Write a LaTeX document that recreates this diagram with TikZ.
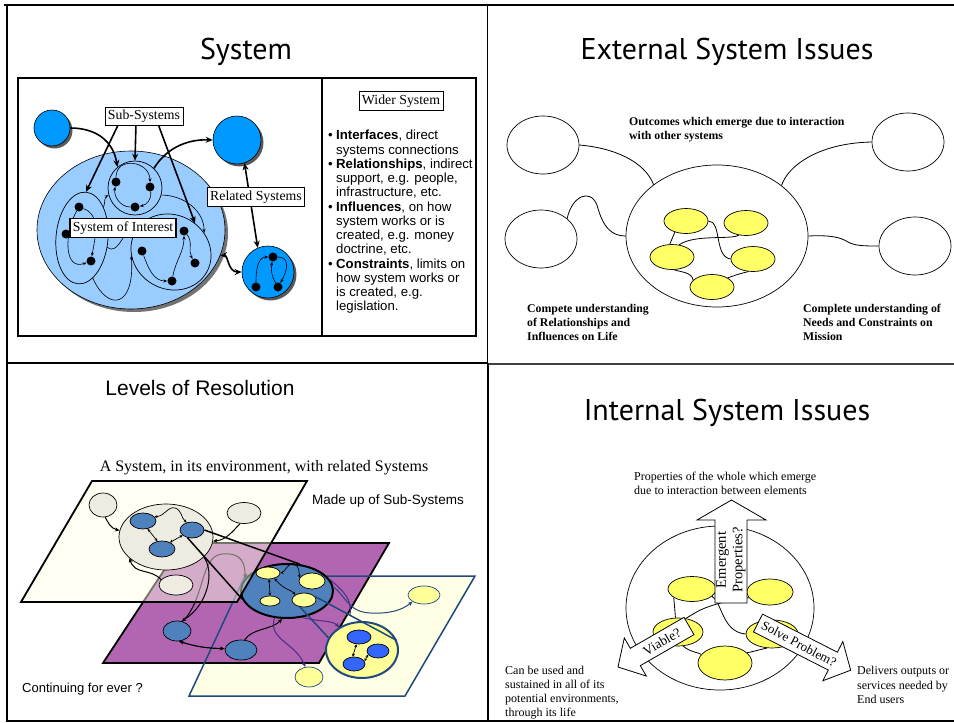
\documentclass[tikz,border=0pt]{standalone}
\usepackage{fontspec}
\setmainfont{Liberation Serif}
\newfontfamily\arialf{Liberation Sans}
\newfontfamily\titlef{PT Sans}
\usetikzlibrary{arrows.meta,shapes.geometric,shadows}
\definecolor{lblue}{HTML}{99CCFF}
\definecolor{dblue}{HTML}{0099FF}
\definecolor{yel}{HTML}{FFFF66}
\definecolor{pyel}{HTML}{FFFFE5}
\definecolor{purp}{HTML}{B266B2}
\definecolor{oblue}{HTML}{4F81BD}
\definecolor{ogrey}{HTML}{EEECE1}
\definecolor{lyel}{HTML}{FFFF99}
\definecolor{bblue}{HTML}{3366FF}
\definecolor{nblue}{HTML}{1F497D}
\definecolor{dpurp}{HTML}{4B2C84}
\definecolor{framegrey}{HTML}{404040}
\newcommand\myb{\makebox[8pt][l]{\textbullet}}
\newcommand\myi{\hspace*{8pt}}
\begin{document}
\begin{tikzpicture}[x=1pt,y=-1pt,
  sz/.style 2 args={minimum width=#1pt, minimum height=#2pt},
  el/.style={ellipse, draw, inner sep=0pt, line width=0.7pt},
  dot/.style={circle, fill=black, inner sep=0pt, minimum size=9pt},
  bluec/.style={circle, draw, fill=dblue, inner sep=0pt, line width=0.6pt,
     drop shadow={shadow xshift=2.5pt, shadow yshift=-2.5pt, fill=black!65, opacity=1}},
  lab/.style={draw, fill=white, inner sep=3pt, line width=0.7pt, font=\fontsize{13.8}{16}\selectfont},
  thk/.style={line width=1.6pt, -{Stealth[length=7pt,width=6pt]}},
  thkb/.style={line width=1.6pt, {Stealth[length=7pt,width=6pt]}-{Stealth[length=7pt,width=6pt]}},
  thn/.style={line width=0.6pt, -{Stealth[length=4pt,width=3pt]}},
  ln/.style={line width=0.8pt},
  ttl/.style={font=\titlef\fontsize{30}{34}\selectfont},
  bsf/.style={font=\bfseries\fontsize{11.8}{14}\selectfont, align=left, inner sep=0pt},
  rmt/.style={font=\fontsize{12}{14.2}\selectfont, align=left, inner sep=0pt},
  sml/.style={line width=1pt, -{Stealth[length=4.5pt,width=4pt]}},
  smlb/.style={line width=0.7pt, {Stealth[length=3pt,width=3pt]}-{Stealth[length=3pt,width=3pt]}},
  bigar/.style={draw, fill=white, line width=0.8pt},
]
\useasboundingbox (0,0) rectangle (954,723);
\fill[white] (0,0) rectangle (954,723);
% ---------------- frame
\draw[line width=2.5pt] (4,5) -- (954,5);
\draw[line width=2pt] (7,4) -- (7,721);
\draw[line width=2pt] (6,721) -- (954,721);
\draw[line width=1.5pt] (7,363) -- (487,363);
\draw[line width=2.5pt, draw=framegrey] (487,364) -- (954,364);
\draw[line width=1pt] (487,5) -- (487,363);
\draw[line width=1.2pt] (488,363) -- (488,721);
% ---------------- titles
\node[ttl] (t1) at (246,52) {System};
\node[ttl] (t2) at (727,52) {External System Issues};
\node[ttl] (t4) at (727,413) {Internal System Issues};
\node[font=\arialf\fontsize{21}{24}\selectfont] (t3) at (200,388) {Levels of Resolution};

% ================= Q1 : System
\draw[line width=2pt] (18,78) rectangle (476,336);
\draw[line width=1.5pt] (322,78) -- (322,336);
\node[draw, line width=0.8pt, inner sep=3pt, font=\fontsize{13.8}{15}\selectfont] (wider) at (401,101) {Wider System};
\node[anchor=north west, inner sep=0pt, align=left, font=\arialf\fontsize{13.2}{14.25}\selectfont] (blist) at (328,130) {%
\myb\textbf{Interfaces}, direct\\
\myi systems connections\\
\myb\textbf{Relationships}, indirect\\
\myi support, e.g. people,\\
\myi infrastructure, etc.\\
\myb\textbf{Influences}, on how\\
\myi system works or is\\
\myi created, e.g. money\\
\myi doctrine, etc.\\
\myb\textbf{Constraints}, limits on\\
\myi how system works or\\
\myi is created, e.g.\\
\myi legislation.};

\node[ellipse, draw, fill=lblue, inner sep=0pt, sz={188}{158}, line width=0.6pt,
  drop shadow={shadow xshift=3pt, shadow yshift=-3pt, fill=black!55, opacity=1}] (soi) at (131,230) {};
\node[el, sz={54}{54}] (ss1) at (135,188) {};
\node[el, sz={52}{92}, rotate=-5] (ss2) at (82,238) {};
\node[el, sz={82}{74}, rotate=-30] (ss3) at (171,252) {};
\node[bluec, minimum size=36pt] (c1) at (52,128) {};
\node[bluec, minimum size=48pt] (c2) at (237,140) {};
\node[bluec, minimum size=52pt] (c3) at (268,272) {};
\foreach \n/\x/\y in {t1d/116/182, t2d/150/187, t3d/135/207, l1/79/207, l2/66/234, l3/91/261,
   r1/184/231, r2/142/251, r3/195/263, r4/172/281, b1/273/257, b2/256/287, b3/278/287}
  \node[dot] (\n) at (\x,\y) {};
% thin internal arrows
\draw[thn] (t1d) to[out=90,in=90,looseness=1.6] (t2d);
\draw[thn] (t2d) to[out=-80,in=10] (t3d);
\draw[thn] (t3d) to[out=180,in=-100] (t1d);
\draw[thn] (l1) to[out=-120,in=200,looseness=1.2] (l3);
\draw[thn] (l1) to[out=-20,in=80] (l3);
\draw[thn] (r2) to[out=-70,in=180] (r4);
\draw[thn] (r4) to[out=80,in=-90] (r1);
\draw[thn] (r1) to[out=-50,in=120] (r3);
\draw[thn] (b2) to[out=90,in=180] (b1);
\draw[thn] (b1) to[out=0,in=60,looseness=1.3] (b3);
\draw[thn] (b3) to[out=120,in=-100] (b1);
\draw[thn] (ss2.60) to[out=70,in=210] (ss1.195);
\draw[thn] (ss1.-15) to[out=0,in=90] (ss3.60);
\draw[thn] (ss2.-70) .. controls (108,312) and (135,308) .. (ss3.215);
\draw[thn] (ss2.-15) to[out=-40,in=180] (ss3.170);
% thick arrows
\node[lab] (lsub) at (144,116.5) {Sub-Systems};
\draw[thk] (lsub.-160) -- (ss2.north);
\draw[thk] (lsub.-130) -- (ss1.north);
\draw[thk] (lsub.-33) -- (ss3.80);
\draw[thk] (c1.east) .. controls (95,128) and (113,140) .. (ss1.130);
\draw[thk] (ss1.46) .. controls (165,150) and (185,139) .. (c2.west);
\draw[thkb] (c2.-72) -- (c3.113);
\draw[thkb] (soi.-16) .. controls (228,255) and (228,272) .. (c3.west);
\node[lab] (lrel) at (256,197) {Related Systems};
\node[lab, line width=1.6pt] (lsoi) at (123,228) {System of Interest};

% ================= Q2 : External
\node[el, sz={182}{142}] (cen) at (717,236) {};
\node[el, sz={72}{58}] (e1) at (543,145) {};
\node[el, sz={72}{58}] (e2) at (541,239) {};
\node[el, sz={72}{58}] (e3) at (908,142) {};
\node[el, sz={72}{58}] (e4) at (915,246) {};
\draw[ln] (e1.east) .. controls (615,148) and (645,162) .. (cen.141);
\draw[ln] (cen.38) .. controls (788,165) and (820,143) .. (e3.west);
\draw[ln] (e2.38) .. controls (572,196) and (590,188) .. (597,205) .. controls (603,228) and (612,236) .. (cen.west);
\draw[ln] (cen.east) .. controls (830,235) and (840,237) .. (848,242) .. controls (855,246) and (865,246) .. (e4.west);
\foreach \n/\x/\y in {ya/686/221, yb/746/223, yc/672/257, yd/753/259, ye/712/287}
  \node[el, fill=yel, sz={44}{25}] (\n) at (\x,\y) {};
\draw[ln] (ya.-135) -- (yc.100);
\draw[ln] (ya.east) .. controls (722,221) and (714,257) .. (yd.west);
\draw[ln] (yb.-120) .. controls (730,240) and (695,234) .. (yc.60);
\draw[ln] (yc.-80) .. controls (680,272) and (692,272) .. (ye.160);
\draw[ln] (yd.-110) .. controls (738,274) and (733,276) .. (ye.30);
\node[bsf, anchor=west] (outc) at (629,129.5) {Outcomes which emerge due to interaction\\with other systems};
\node[bsf, anchor=west] (cul) at (527,322) {Compete understanding\\of Relationships and\\Influences on Life};
\node[bsf, anchor=west] (cun) at (803,322) {Complete understanding of\\Needs and Constraints on\\Mission};

% ================= Q3 : Levels of resolution
\node[font=\fontsize{16}{18}\selectfont] (asys) at (264,468) {A System, in its environment, with related Systems};
\node[anchor=west, inner sep=0pt, font=\arialf\fontsize{13.5}{15}\selectfont] (mus) at (312,501) {Made up of Sub-Systems};
\node[anchor=west, inner sep=0pt, font=\arialf\fontsize{13}{15}\selectfont] (cfe) at (22,689) {Continuing for ever ?};
% bottom plane fill
\fill[pyel] (245,576) -- (475,576) -- (405,696) -- (189,696) -- cycle;
% middle plane
\draw[fill=purp, line width=1.8pt] (182,543) -- (389,543) -- (319,663) -- (103,663) -- cycle;
% bottom plane outline
\draw[nblue, line width=1.5pt] (245,576) -- (475,576) -- (405,696) -- (189,696) -- cycle;
% middle plane items
\node[el, fill=oblue, line width=2pt, sz={92}{54}] (B) at (287,591) {};
\node[el, fill=lyel, sz={24}{12}] (y1) at (268,573) {};
\node[el, fill=lyel, sz={26}{16}] (y2) at (312,581) {};
\node[el, fill=lyel, sz={20}{10}] (y3) at (270,601) {};
\node[el, fill=lyel, sz={24}{14}] (y4) at (304,600) {};
\draw[smlb] (y1.-80) -- (y3.90);
\draw[smlb] (y1.east) .. controls (285,572) and (288,562) .. (294,564) .. controls (300,566) and (299,574) .. (y2.165);
\draw[smlb] (y1.-40) .. controls (284,590) and (292,590) .. (y4.150);
\node[el, fill=oblue, sz={28}{20}] (s1) at (177,631) {};
\node[el, fill=oblue, sz={32}{20}] (s2) at (241,650) {};
\draw[line width=1.2pt, {Stealth[length=5pt,width=4pt]}-{Stealth[length=5pt,width=4pt]}] (s1.-80) to[bend right=8] (s2.175);
\draw[sml] (s2.70) .. controls (252,628) and (272,630) .. (B.-100);
\draw[sml] (s1.60) .. controls (205,600) and (200,556) .. (222,554) .. controls (235,553) and (245,556) .. (B.163);
% bottom plane items
\node[el, fill=lyel, draw=nblue, line width=2pt, sz={72}{56}] (Y) at (362,650) {};
\node[el, fill=bblue, sz={24}{14}] (bb1) at (359,637) {};
\node[el, fill=bblue, sz={22}{14}] (bb2) at (378,651) {};
\node[el, fill=bblue, sz={22}{14}] (bb3) at (354,664) {};
\draw[smlb] (bb1.-110) -- (bb3.100);
\draw[smlb] (bb3.15) -- (bb2.-160);
\node[el, fill=lyel, draw=nblue, sz={32}{18}] (ys1) at (424,595) {};
\node[el, fill=lyel, draw=nblue, sz={28}{20}] (ys2) at (309,677) {};
\draw[sml, draw=nblue] (B.5) .. controls (345,595) and (348,612) .. (370,613) .. controls (390,614) and (402,610) .. (ys1.-150);
\draw[sml, draw=dpurp] (B.-115) .. controls (268,640) and (295,642) .. (ys2.110);
\draw[sml, draw=dpurp] (B.-60) .. controls (320,622) and (332,620) .. (Y.135);
\draw[line width=1pt, draw=dpurp] (B.15) .. controls (345,592) and (352,600) .. (350,615);
% top plane
\fill[pyel, fill opacity=0.45] (92,481) -- (307,481) -- (237,602) -- (21,602) -- cycle;
\draw[line width=1.8pt] (92,481) -- (307,481) -- (237,602) -- (21,602) -- cycle;
\node[el, fill=ogrey, sz={94}{66}] (G) at (166,537) {};
\node[el, fill=ogrey, sz={28}{24}] (g1) at (103,505) {};
\node[el, fill=ogrey, sz={34}{21}] (g2) at (244,513) {};
\node[el, fill=ogrey, sz={34}{20}] (g3) at (176,585) {};
\node[el, fill=oblue, sz={26}{16}] (gb1) at (143,521) {};
\node[el, fill=oblue, sz={24}{16}] (gb2) at (192,530) {};
\node[el, fill=oblue, sz={26}{16}] (gb3) at (162,549) {};
\draw[sml] (g1.-80) .. controls (108,522) and (110,528) .. (G.172);
\draw[sml] (g2.-110) .. controls (232,532) and (226,540) .. (G.-5);
\draw[sml] (g3.160) .. controls (150,568) and (135,575) .. (G.-150);
\draw[smlb] (gb1.-60) -- (gb3.120);
\draw[smlb] (gb1.20) .. controls (165,516) and (168,506) .. (175,508) .. controls (182,510) and (181,518) .. (gb2.125);
\draw[smlb] (gb3.40) -- (gb2.-150);
\draw[sml] (G.-28) .. controls (215,572) and (208,605) .. (s1.65);
% expansion lines
\draw[line width=1.5pt] (gb2.east) -- (B.65);
\draw[line width=1.5pt] (gb2.-120) -- (B.190);
\draw[line width=1.5pt, draw=nblue] (y4.20) -- (Y.15);
\draw[line width=1.5pt, draw=nblue] (y4.-120) -- (Y.160);

% ================= Q4 : Internal
\node[el, sz={188}{164}] (Q) at (720,608) {};
\node[el, fill=yel, sz={48}{25}] (qa) at (692,589) {};
\node[el, fill=yel, sz={46}{26}] (qb) at (770,592) {};
\node[el, fill=yel, sz={50}{28}] (qc) at (678,632) {};
\node[el, fill=yel, sz={52}{28}] (qd) at (772,634) {};
\node[el, fill=yel, sz={54}{34}] (qe) at (725,663) {};
\draw[ln] (qa.-155) -- (qc.100);
\draw[ln] (qc.60) .. controls (697,612) and (705,604) .. (qb.-165);
\draw[ln] (qa.-20) .. controls (722,602) and (722,632) .. (qd.west);
\draw[ln] (qc.-70) .. controls (690,652) and (697,652) .. (qe.160);
\draw[ln] (qd.-110) .. controls (758,650) and (752,652) .. (qe.25);
% up arrow
\draw[bigar] (715,603) -- (715,520) -- (697,520) -- (731.5,500) -- (766,520) -- (747,520) -- (747,603) -- cycle;
\node[rotate=90, align=center, inner sep=0pt, font=\fontsize{14.5}{16.5}\selectfont] (emp) at (731,560) {Emergent\\Properties?};
\begin{scope}[shift={(689,626)}, rotate=210]
\draw[bigar] (0,-10) -- (62,-10) -- (62,-22) -- (82,0) -- (62,22) -- (62,10) -- (0,10) -- cycle;
\end{scope}
\node[rotate=30, inner sep=0pt, font=\fontsize{13.5}{15}\selectfont] (via) at (662,642) {Viable?};
\begin{scope}[shift={(758,623)}, rotate=-27]
\draw[bigar] (0,-10) -- (84,-10) -- (84,-22) -- (104,0) -- (84,22) -- (84,10) -- (0,10) -- cycle;
\end{scope}
\node[rotate=-28, inner sep=0pt, font=\fontsize{13}{15}\selectfont] (svp) at (799,644) {Solve Problem?};
\node[rmt, anchor=west] (prop) at (634,483) {Properties of the whole which emerge\\due to interaction between elements};
\node[rmt, anchor=west] (cbu) at (505,692.5) {Can be used and\\sustained in all of its\\potential environments,\\through its life};
\node[rmt, anchor=west] (dlv) at (857,685) {Delivers outputs or\\services needed by\\End users};
\end{tikzpicture}
\end{document}
